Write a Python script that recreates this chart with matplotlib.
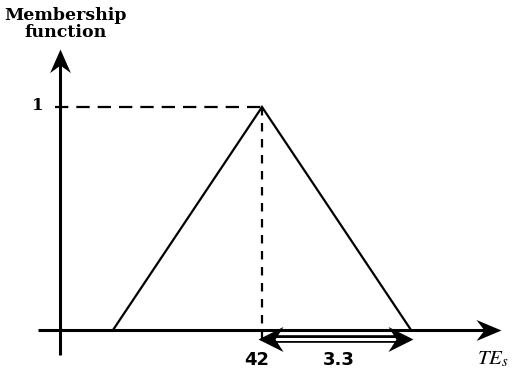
import matplotlib
matplotlib.use("Agg")
import matplotlib.pyplot as plt
from matplotlib.path import Path

# triangular membership function: peak position and half-spread
peak = 42.0
spread = 3.3
mf_x = [peak - spread, peak, peak + spread]
mf_y = [0.0, 1.0, 0.0]
peak_label = "42"
spread_label = "3.3"
level_label = "1"
ylabel_text = "Membership\nfunction"
xlabel_text = r"$\mathit{TE}_s$"

plt.rcParams["mathtext.fontset"] = "stix"


def head(direction, half_width=0.4):
    # concave ("stealth") arrow head with its tip at the marker origin
    w = half_width
    pts = [(0, 0), (-1, w), (-0.68, 0), (-1, -w), (0, 0)]
    if direction == "left":
        pts = [(-x, y) for x, y in pts]
    elif direction == "up":
        pts = [(-y, x) for x, y in pts]
    codes = [Path.MOVETO] + [Path.LINETO] * 3 + [Path.CLOSEPOLY]
    return Path(pts, codes)


fig = plt.figure(figsize=(5.14, 3.69), dpi=100)
ax = fig.add_axes([0, 0, 1, 1])
ax.set_xlim(36.197, 47.581)
ax.set_ylim(-0.175, 1.48)
ax.axis("off")

x0 = 37.526           # vertical axis position
x_tip, y_tip = 47.30, 1.258

# axes
ax.plot([37.04, x_tip - 0.3], [0, 0], color="black", lw=2.2, solid_capstyle="butt")
ax.plot([x0, x0], [-0.112, y_tip - 0.06], color="black", lw=2.2, solid_capstyle="butt")
ax.plot([x_tip], [0], marker=head("right", 0.42), ms=36, color="black", mew=0)
ax.plot([x0], [y_tip], marker=head("up", 0.44), ms=34, color="black", mew=0)

# membership triangle
ax.plot(mf_x, mf_y, color="black", lw=1.6, solid_joinstyle="miter")

# dashed guides to the peak
ax.plot([x0 - 0.1, peak], [1, 1], color="black", lw=1.6, ls=(0, (6, 3.6)))
ax.plot([peak, peak], [1, -0.06], color="black", lw=1.6, ls=(0, (3.8, 3.4)))

# spread dimension arrow with a hollow shaft
y_arr = -0.04
left_tip, right_tip = peak - 0.09, peak + spread + 0.04
ax.plot([left_tip + 0.3, right_tip - 0.3], [y_arr, y_arr], color="black",
        lw=5.5, solid_capstyle="butt")
ax.plot([left_tip + 0.3, right_tip - 0.3], [y_arr, y_arr], color="white",
        lw=2.2, solid_capstyle="butt")
ax.plot([left_tip], [y_arr], marker=head("left", 0.5), ms=36, color="black", mew=0)
ax.plot([right_tip], [y_arr], marker=head("right", 0.5), ms=36, color="black", mew=0)

serif = ["DejaVu Serif"]
ax.text(37.04, 1.005, level_label, ha="center", va="center", fontsize=12,
        family=serif, fontweight="bold")
ax.text(41.89, -0.135, peak_label, ha="center", va="center", fontsize=13,
        family="DejaVu Sans", fontweight="bold")
ax.text(43.70, -0.135, spread_label, ha="center", va="center", fontsize=13,
        family="DejaVu Sans", fontweight="bold")
ax.text(47.12, -0.128, xlabel_text, ha="center", va="center", fontsize=15)
ax.text(37.64, 1.372, ylabel_text, ha="center", va="center", fontsize=12.5,
        family=serif, fontweight="bold", linespacing=1.05)

fig.savefig("out.png", dpi=100)
